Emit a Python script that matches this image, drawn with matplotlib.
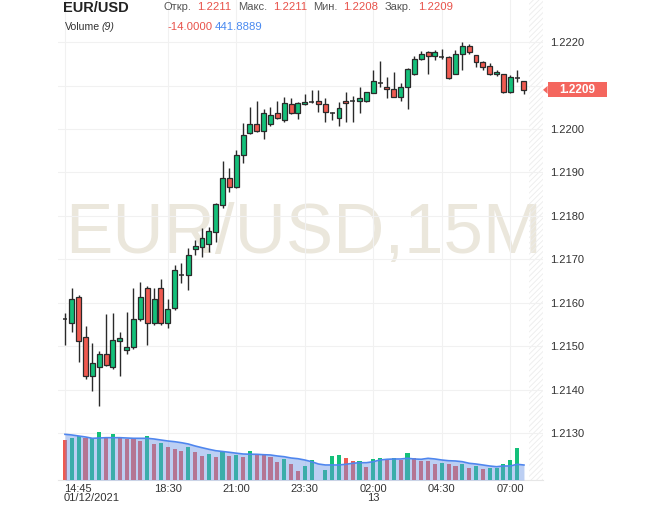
import matplotlib
matplotlib.use("Agg")
import matplotlib.pyplot as plt
import numpy as np
from matplotlib import transforms
from matplotlib.patches import Rectangle, Polygon

plt.rcParams['font.family'] = ['Liberation Sans', 'DejaVu Sans']

# ---------------- data ----------------
opens = [1.21563, 1.21554, 1.21614, 1.21522, 1.21432, 1.21453, 1.21483, 1.21453, 1.21513, 1.21492,
         1.21499, 1.21563, 1.21634, 1.21554, 1.21634, 1.21554, 1.21589, 1.21664, 1.21664, 1.21724,
         1.21729, 1.21736, 1.21763, 1.21825, 1.21887, 1.21867, 1.21940, 1.21991, 1.22011, 1.21995,
         1.22011, 1.22037, 1.22021, 1.22057, 1.22037, 1.22057, 1.22062, 1.22064, 1.22057, 1.22037,
         1.22025, 1.22064, 1.22064, 1.22064, 1.22064, 1.22083, 1.22106, 1.22097, 1.22092, 1.22074,
         1.22097, 1.22126, 1.22161, 1.22177, 1.22168, 1.22166, 1.22166, 1.22126, 1.22172, 1.22191,
         1.22170, 1.22154, 1.22145, 1.22126, 1.22126, 1.22085, 1.22117, 1.22110]
highs = [1.21577, 1.21634, 1.21618, 1.21547, 1.21508, 1.21490, 1.21575, 1.21577, 1.21533, 1.21579,
         1.21634, 1.21648, 1.21638, 1.21634, 1.21655, 1.21609, 1.21687, 1.21692, 1.21726, 1.21745,
         1.21772, 1.21775, 1.21830, 1.21926, 1.21910, 1.21952, 1.22014, 1.22051, 1.22064, 1.22046,
         1.22051, 1.22064, 1.22074, 1.22071, 1.22062, 1.22080, 1.22090, 1.22090, 1.22071, 1.22038,
         1.22062, 1.22085, 1.22076, 1.22097, 1.22086, 1.22136, 1.22156, 1.22120, 1.22131, 1.22106,
         1.22140, 1.22168, 1.22179, 1.22179, 1.22182, 1.22184, 1.22168, 1.22182, 1.22200, 1.22195,
         1.22171, 1.22156, 1.22152, 1.22136, 1.22127, 1.22124, 1.22136, 1.22110]
lows = [1.21503, 1.21533, 1.21464, 1.21425, 1.21398, 1.21363, 1.21455, 1.21448, 1.21432, 1.21483,
        1.21495, 1.21558, 1.21503, 1.21550, 1.21550, 1.21543, 1.21584, 1.21646, 1.21630, 1.21710,
        1.21706, 1.21717, 1.21740, 1.21818, 1.21855, 1.21864, 1.21922, 1.21988, 1.21993, 1.21977,
        1.22008, 1.22023, 1.22016, 1.22035, 1.22023, 1.22055, 1.22060, 1.22039, 1.22016, 1.22021,
        1.22007, 1.22016, 1.22016, 1.22037, 1.22062, 1.22082, 1.22097, 1.22071, 1.22074, 1.22064,
        1.22046, 1.22124, 1.22159, 1.22126, 1.22159, 1.22161, 1.22115, 1.22126, 1.22136, 1.22172,
        1.22143, 1.22136, 1.22124, 1.22122, 1.22083, 1.22083, 1.22108, 1.22080]
closes = [1.21565, 1.21609, 1.21513, 1.21432, 1.21462, 1.21483, 1.21457, 1.21515, 1.21520, 1.21499,
          1.21563, 1.21614, 1.21554, 1.21609, 1.21554, 1.21586, 1.21676, 1.21666, 1.21710, 1.21731,
          1.21749, 1.21766, 1.21828, 1.21887, 1.21867, 1.21940, 1.21986, 1.22011, 1.21995, 1.22037,
          1.22032, 1.22025, 1.22060, 1.22037, 1.22060, 1.22062, 1.22063, 1.22057, 1.22039, 1.22036,
          1.22048, 1.22060, 1.22063, 1.22071, 1.22085, 1.22110, 1.22105, 1.22092, 1.22074, 1.22097,
          1.22138, 1.22161, 1.22172, 1.22168, 1.22177, 1.22165, 1.22117, 1.22172, 1.22191, 1.22177,
          1.22154, 1.22143, 1.22126, 1.22131, 1.22085, 1.22120, 1.22116, 1.22090]

volumes = [1180, 1248, 1298, 1230, 1232, 1407, 1230, 1348, 1269, 1201,
           1200, 1151, 1298, 1062, 1083, 982, 915, 856, 982, 817,
           717, 758, 670, 835, 717, 738, 670, 856, 758, 756,
           687, 540, 620, 463, 266, 422, 590, 0, 295, 708,
           738, 640, 561, 565, 392, 611, 640, 590, 640, 590,
           788, 658, 561, 560, 472, 493, 472, 422, 463, 345,
           413, 316, 345, 363, 472, 590, 953, 0]
vol_up = [0, 1, 1, 0, 1, 1, 0, 1, 0, 0,
          0, 0, 1, 0, 1, 0, 0, 0, 1, 0,
          0, 1, 0, 1, 0, 1, 0, 1, 0, 0,
          0, 0, 1, 0, 0, 1, 1, 1, 1, 1,
          1, 0, 0, 1, 0, 1, 1, 0, 1, 0,
          1, 0, 0, 0, 0, 1, 0, 0, 1, 0,
          1, 0, 1, 1, 1, 1, 1, 0]
vol_ma = [1348, 1328, 1298, 1269, 1230, 1239, 1248, 1248, 1248, 1239,
          1230, 1230, 1230, 1210, 1180, 1151, 1130, 1100, 1062, 1003,
          953, 906, 864, 841, 817, 791, 767, 761, 758, 746,
          738, 708, 687, 649, 628, 590, 540, 472, 443, 443,
          443, 463, 493, 510, 510, 540, 590, 611, 620, 620,
          640, 620, 611, 640, 620, 590, 569, 561, 540, 493,
          472, 443, 413, 392, 413, 413, 463, 441.8889]

tick_idx = [0, 15, 25, 35, 45, 55, 65]
tick_labels = ['14:45\n01/12/2021', '18:30', '21:00', '23:30', '02:00\n13', '04:30', '07:00']
price_ticks = [1.2130, 1.2140, 1.2150, 1.2160, 1.2170, 1.2180, 1.2190, 1.2200, 1.2210, 1.2220]

header_ohlc = [('Откр.', '1.2211'), ('Макс.', '1.2211'), ('Мин.', '1.2208'), ('Закр.', '1.2209')]
vol_change = '-14.0000'
vol_ma_last = '441.8889'

# ---------------- figure ----------------
W, H = 665, 505
fig = plt.figure(figsize=(W / 100, H / 100), dpi=100)
fig.patch.set_facecolor('white')

ax_rect = [58 / W, 25 / H, (543 - 58) / W, 480 / H]
ax = fig.add_axes(ax_rect)
ax.set_facecolor('white')

n = len(opens)
idx = np.arange(n)
ax.set_xlim(-1.02, 69.78)
ax.set_ylim(1.21193, 1.222966)

GREEN = '#14c07a'
RED = '#f05a50'
EDGE = '#2a2a2a'

# grid
ax.set_yticks(price_ticks)
ax.set_yticklabels([f'{p:.4f}' for p in price_ticks])
ax.set_xticks(tick_idx)
ax.set_xticklabels([])
ax.grid(True, color='#f1f1f1', lw=0.8, zorder=0)
ax.yaxis.tick_right()
ax.tick_params(axis='y', length=0, pad=5, labelsize=8, labelcolor='#333333')
ax.tick_params(axis='x', length=0)
for s in ['top', 'left', 'right']:
    ax.spines[s].set_visible(False)
ax.spines['bottom'].set_color('#e6e6e6')
ax.spines['bottom'].set_linewidth(0.8)

# watermark
ax.text(0.506, 0.51, 'EUR/USD,15M', transform=ax.transAxes, ha='center', va='center',
        fontsize=51, color='#ebe7dc', zorder=1)

# hatched future area
plt.rcParams['hatch.linewidth'] = 0.6
ax.axvspan(67.7, 69.78, facecolor='none', edgecolor='#ececec', hatch='//////', lw=0, zorder=1)

# candles
bw = 0.72
min_h = 0.000035
for i in idx:
    o, h, l, c = opens[i], highs[i], lows[i], closes[i]
    ax.vlines(i, l, h, color=EDGE, lw=1.0, zorder=3)
    if abs(c - o) < 0.000025:
        ax.hlines((o + c) / 2, i - bw / 2, i + bw / 2, color=EDGE, lw=1.1, zorder=4)
    else:
        col = GREEN if c > o else RED
        ax.bar(i, max(abs(c - o), min_h), bottom=min(o, c), width=bw, color=col,
               edgecolor=EDGE, linewidth=0.9, zorder=4)

# x labels
xt = transforms.blended_transform_factory(ax.transData, ax.transAxes)
for k, (ti, lab) in enumerate(zip(tick_idx, tick_labels)):
    ha = 'left' if k == 0 else 'center'
    ax.text(ti - 0.15 if k == 0 else ti, -0.008, lab, transform=xt, ha=ha, va='top',
            fontsize=8, color='#333333', linespacing=0.95, multialignment=ha)

# volume axes
axv = fig.add_axes(ax_rect, sharex=ax)
axv.set_ylim(0, 480 * 29.5)
axv.patch.set_visible(False)
axv.axis('off')
vcols = [GREEN if u else RED for u in vol_up]
axv.bar(idx, volumes, width=0.6, color=vcols, zorder=2)
axv.fill_between(idx, vol_ma, 0, color='#6c96e6', alpha=0.45, lw=0, zorder=3)
axv.plot(idx, vol_ma, color='#4f86ee', lw=1.2, zorder=4)

# current price marker (drawn on top axes so it covers the tick label)
last = closes[-1]
bt = transforms.blended_transform_factory(axv.transAxes, ax.transData)
ppx = (ax.get_ylim()[1] - ax.get_ylim()[0]) / 480.0
box = Rectangle((1.0 + 4.5 / 485.0, last - 7.5 * ppx), 59 / 485.0, 15 * ppx,
                transform=bt, facecolor='#f4665e', edgecolor='none', clip_on=False, zorder=10)
axv.add_patch(box)
tri = Polygon([(1.0, last), (1.0 + 4.6 / 485.0, last + 4 * ppx), (1.0 + 4.6 / 485.0, last - 4 * ppx)],
              closed=True, transform=bt, facecolor='#f4665e', edgecolor='none', clip_on=False, zorder=10)
axv.add_patch(tri)
axv.text(1.0 + (4.5 + 30) / 485.0, last, f'{last:.4f}', transform=bt, ha='center', va='center',
         fontsize=8.5, color='white', fontweight='bold', zorder=11, clip_on=False)

# header
def fx(px):
    return px / W

def fy(py):
    return 1 - py / H

fig.text(fx(63), fy(8.5), 'EUR/USD', fontsize=10.5, fontweight='bold', color='#222222', va='center')
hx = [(163, 197), (238, 273), (313, 343), (385, 418)]
for (lx, vx), (lab, val) in zip(hx, header_ohlc):
    fig.text(fx(lx), fy(7.5), lab, fontsize=8, color='#555555', va='center')
    fig.text(fx(vx), fy(7), val, fontsize=8.2, color='#e8524a', va='center')
fig.text(fx(65), fy(27), 'Volume', fontsize=7.6, color='#333333', va='center')
fig.text(fx(102), fy(27), '(9)', fontsize=7.6, color='#333333', va='center', style='italic')
fig.text(fx(168), fy(26.5), vol_change, fontsize=8.2, color='#e8524a', va='center')
fig.text(fx(215), fy(26.5), vol_ma_last, fontsize=8.2, color='#4a8af0', va='center')

fig.savefig('out.png', dpi=100, facecolor='white')
